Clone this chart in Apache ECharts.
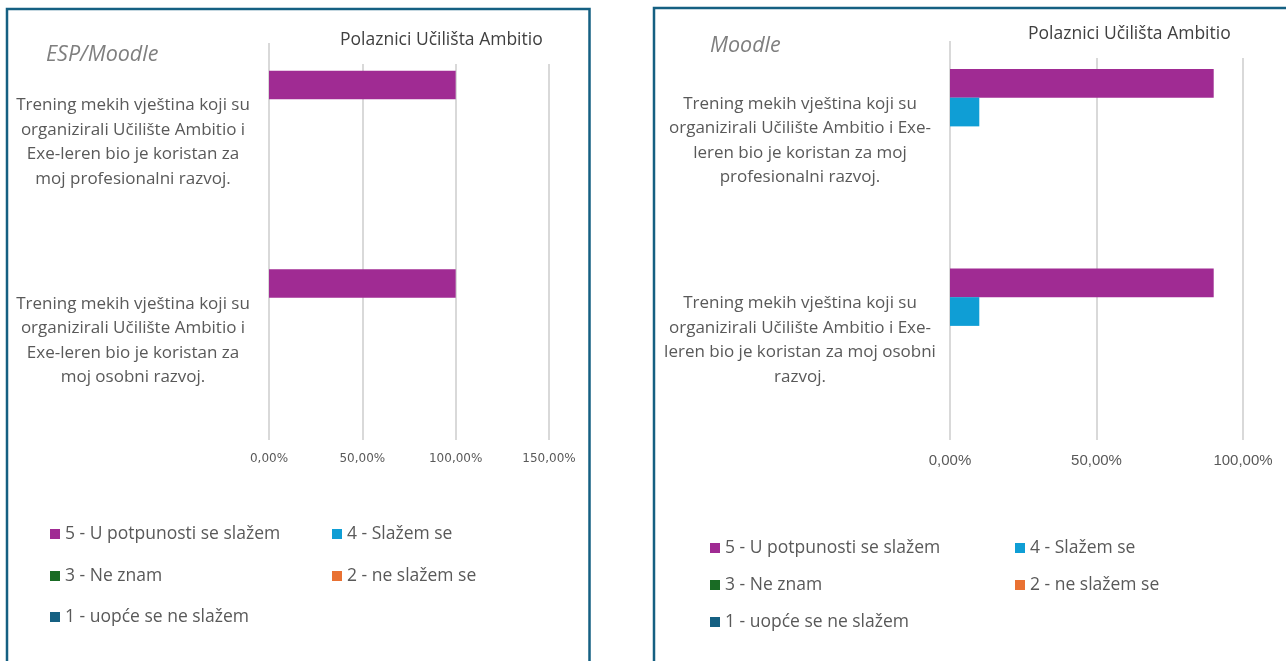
<!DOCTYPE html>
<html>
<head>
<meta charset="utf-8">
<script src="https://cdn.jsdelivr.net/npm/echarts@6/dist/echarts.min.js"></script>
<style>
html,body{margin:0;padding:0;background:#fff;}
#c{width:1286px;height:661px;}
</style>
</head>
<body>
<div id="c"></div>
<script>
// ---- data ----
const seriesNames = ['5 - U potpunosti se slažem', '4 - Slažem se', '3 - Ne znam', '2 - ne slažem se', '1 - uopće se ne slažem'];
const seriesColors = ['#A02B93', '#0F9ED5', '#196B24', '#E97132', '#156082'];

const leftTitle = 'Polaznici Učilišta Ambitio';
const leftSubtitle = 'ESP/Moodle';
const leftCategories = [
  'Trening mekih vještina koji su\norganizirali Učilište Ambitio i\nExe-leren bio je koristan za\nmoj profesionalni razvoj.',
  'Trening mekih vještina koji su\norganizirali Učilište Ambitio i\nExe-leren bio je koristan za\nmoj osobni razvoj.'
];
const leftS5 = [1.0, 1.0];
const leftS4 = [0, 0];
const leftS3 = [0, 0];
const leftS2 = [0, 0];
const leftS1 = [0, 0];
const leftAxisMax = 1.5;

const rightTitle = 'Polaznici Učilišta Ambitio';
const rightSubtitle = 'Moodle';
const rightCategories = [
  'Trening mekih vještina koji su\norganizirali Učilište Ambitio i Exe-\nleren bio je koristan za moj\nprofesionalni razvoj.',
  'Trening mekih vještina koji su\norganizirali Učilište Ambitio i Exe-\nleren bio je koristan za moj osobni\nrazvoj.'
];
const rightS5 = [0.9, 0.9];
const rightS4 = [0.1, 0.1];
const rightS3 = [0, 0];
const rightS2 = [0, 0];
const rightS1 = [0, 0];
const rightAxisMax = 1.0;

const axisInterval = 0.5;

// ---- chart ----
const FONT = '"Open Sans", "Noto Sans", sans-serif';
const fmtPct = v => (v * 100).toFixed(2).replace('.', ',') + '%';

const leftData = [leftS5, leftS4, leftS3, leftS2, leftS1];
const rightData = [rightS5, rightS4, rightS3, rightS2, rightS1];

function makeSeries(dataArr, idx) {
  return dataArr.map((d, i) => ({
    type: 'bar',
    name: seriesNames[i],
    xAxisIndex: idx,
    yAxisIndex: idx,
    data: d,
    barGap: '0%',
    barCategoryGap: '28%',
    itemStyle: { color: seriesColors[i] },
    emphasis: { disabled: true }
  }));
}

const leftLegendPos = [[50, 534], [332, 534], [50, 576], [332, 576], [50, 617]];
const rightLegendPos = [[710, 548], [1015, 548], [710, 585], [1015, 585], [710, 622]];

function makeLegends(pos) {
  return pos.map((p, i) => ({
    data: [seriesNames[i]],
    left: p[0],
    top: p[1] - 10,
    padding: 0,
    icon: 'rect',
    itemWidth: 10,
    itemHeight: 10,
    itemGap: 0,
    selectedMode: false,
    textStyle: { color: '#595959', fontSize: 17.5, fontFamily: FONT, lineHeight: 20 }
  }));
}

const option = {
  backgroundColor: '#ffffff',
  animation: false,
  title: [
    { text: leftTitle, left: 322, top: 25, padding: [5, 20, 14, 18], backgroundColor: '#ffffff',
      textStyle: { fontSize: 17.5, fontWeight: 'normal', color: '#404040', fontFamily: FONT, lineHeight: 20 } },
    { text: leftSubtitle, left: 46, top: 44, padding: 0,
      textStyle: { fontSize: 21.5, fontStyle: 'italic', fontWeight: 'normal', color: '#7f7f7f', fontFamily: FONT } },
    { text: rightTitle, left: 1010, top: 19, padding: [5, 20, 14, 18], backgroundColor: '#ffffff',
      textStyle: { fontSize: 17.5, fontWeight: 'normal', color: '#404040', fontFamily: FONT, lineHeight: 20 } },
    { text: rightSubtitle, left: 710, top: 35, padding: 0,
      textStyle: { fontSize: 21.5, fontStyle: 'italic', fontWeight: 'normal', color: '#7f7f7f', fontFamily: FONT } }
  ],
  legend: makeLegends(leftLegendPos).concat(makeLegends(rightLegendPos)),
  grid: [
    { left: 269, top: 43, width: 280, height: 397, containLabel: false },
    { left: 950, top: 41, width: 293, height: 399, containLabel: false }
  ],
  xAxis: [
    { type: 'value', gridIndex: 0, min: 0, max: leftAxisMax, interval: axisInterval,
      axisLine: { show: false }, axisTick: { show: false },
      splitLine: { show: true, lineStyle: { color: '#d9d9d9', width: 2 } },
      axisLabel: { formatter: fmtPct, color: '#595959', fontSize: 12, fontFamily: '"DejaVu Sans", sans-serif', margin: 13 } },
    { type: 'value', gridIndex: 1, min: 0, max: rightAxisMax, interval: axisInterval,
      axisLine: { show: false }, axisTick: { show: false },
      splitLine: { show: true, lineStyle: { color: '#d9d9d9', width: 2 } },
      axisLabel: { formatter: fmtPct, color: '#595959', fontSize: 15, fontFamily: '"Liberation Sans", Arial, sans-serif', margin: 13 } }
  ],
  yAxis: [
    { type: 'category', gridIndex: 0, inverse: true, data: leftCategories,
      axisLine: { show: false }, axisTick: { show: false },
      axisLabel: { align: 'center', margin: 136, color: '#595959', fontSize: 17, lineHeight: 24.5, fontFamily: FONT } },
    { type: 'category', gridIndex: 1, inverse: true, data: rightCategories,
      axisLine: { show: false }, axisTick: { show: false },
      axisLabel: { align: 'center', margin: 150, color: '#595959', fontSize: 17, lineHeight: 24.5, fontFamily: FONT } }
  ],
  graphic: [
    { type: 'rect', z: 100, silent: true, shape: { x: 7, y: 9, width: 582.5, height: 700 },
      style: { fill: 'none', stroke: '#156082', lineWidth: 2.5 } },
    { type: 'rect', z: 100, silent: true, shape: { x: 654, y: 8, width: 700, height: 700 },
      style: { fill: 'none', stroke: '#156082', lineWidth: 2.5 } }
  ],
  series: makeSeries(leftData, 0).concat(makeSeries(rightData, 1))
};

const chart = echarts.init(document.getElementById('c'), null, { renderer: 'canvas' });
chart.setOption(option);
</script>
</body>
</html>
